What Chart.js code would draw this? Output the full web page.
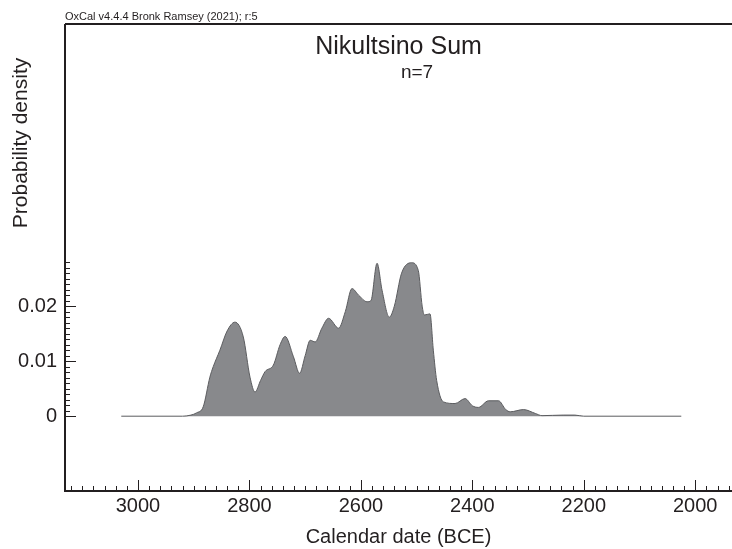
<!DOCTYPE html>
<html lang="en">
<head>
    <meta charset="UTF-8">
    <title>Nikultsino Sum</title>
    <script src="https://cdn.jsdelivr.net/npm/chart.js"></script>
    <style>
        body { margin: 0; background: #fff; }
        #wrap { width: 732px; height: 549px; position: relative; }
    </style>
</head>
<body>
    <div id="wrap"><canvas id="sumChart"></canvas></div>
    <script>
        // calendar years (BCE) and summed probability density
        const years = [3030, 2920, 2905, 2895, 2883, 2871, 2865, 2853, 2840, 2826,
            2811, 2799, 2790, 2780, 2772, 2757, 2745, 2736, 2721, 2710,
            2700, 2691, 2682, 2670, 2658, 2640, 2628, 2616, 2604, 2589,
            2582, 2571, 2562, 2549, 2540, 2527, 2509, 2497, 2490, 2486,
            2476, 2470, 2464, 2452, 2431, 2413, 2400, 2389, 2371, 2353,
            2340, 2332, 2308, 2287, 2275, 2237, 2216, 2200, 2025];
        const density = [0, 0, 0.0002, 0.0006, 0.0017, 0.0071, 0.009, 0.012, 0.0155, 0.0171,
            0.0144, 0.0071, 0.0044, 0.0065, 0.0081, 0.0093, 0.013, 0.0145, 0.0108, 0.0078,
            0.011, 0.0138, 0.0135, 0.016, 0.0178, 0.016, 0.019, 0.0232, 0.022, 0.0208,
            0.021, 0.0278, 0.0229, 0.018, 0.02, 0.026, 0.0279, 0.0265, 0.02, 0.0184,
            0.0186, 0.012, 0.0065, 0.0026, 0.0023, 0.0032, 0.0019, 0.0016, 0.0028, 0.0028,
            0.0012, 0.0008, 0.0012, 0.0005, 0.0001, 0.0002, 0.0002, 0, 0];

        const xTickYears = [3000, 2800, 2600, 2400, 2200, 2000];
        const yTickValues = [0, 0.01, 0.02];

        const credit = 'OxCal v4.4.4 Bronk Ramsey (2021); r:5';
        const title = 'Nikultsino Sum';
        const subtitle = 'n=7';
        const xLabel = 'Calendar date (BCE)';
        const yLabel = 'Probability density';

        const FONT = "'Liberation Sans', Arial, sans-serif";
        const INK = '#231f20';

        // OxCal style frame: inward ticks, minor ticks, labels
        const oxcalFrame = {
            id: 'oxcalFrame',
            afterDraw(chart) {
                const ctx = chart.ctx;
                const a = chart.chartArea;
                const xs = chart.scales.x;
                const ys = chart.scales.y;
                ctx.save();
                ctx.strokeStyle = INK;
                ctx.lineWidth = 2;
                ctx.beginPath();
                ctx.moveTo(a.left, a.top);
                ctx.lineTo(chart.width, a.top);
                ctx.moveTo(a.left, a.top);
                ctx.lineTo(a.left, a.bottom);
                ctx.lineTo(chart.width, a.bottom);
                ctx.stroke();

                ctx.lineWidth = 1;
                ctx.beginPath();
                for (let yr = 3120; yr >= 1940; yr -= 20) {
                    const px = Math.round(xs.getPixelForValue(yr)) + 0.5;
                    const len = yr % 200 === 0 ? 11 : 5;
                    ctx.moveTo(px, a.bottom);
                    ctx.lineTo(px, a.bottom - len);
                }
                for (let k = 0; k <= 28; k++) {
                    const py = Math.round(ys.getPixelForValue(k / 1000)) + 0.5;
                    const len = k % 10 === 0 ? 11 : 5;
                    ctx.moveTo(a.left, py);
                    ctx.lineTo(a.left + len, py);
                }
                ctx.stroke();

                ctx.fillStyle = INK;
                ctx.textBaseline = 'alphabetic';
                ctx.font = '11px ' + FONT;
                ctx.textAlign = 'left';
                ctx.fillText(credit, a.left, 20);

                const cx = (a.left + a.right) / 2;
                ctx.textAlign = 'center';
                ctx.font = '25px ' + FONT;
                ctx.fillText(title, cx, 54);
                ctx.font = '19px ' + FONT;
                ctx.fillText(subtitle, 417, 78);
                ctx.font = '20px ' + FONT;
                ctx.fillText(xLabel, cx, 543);

                ctx.translate(21, 143);
                ctx.rotate(-Math.PI / 2);
                ctx.textBaseline = 'middle';
                ctx.font = '21px ' + FONT;
                ctx.fillText(yLabel, 0, 0);
                ctx.restore();
            }
        };

        new Chart(document.getElementById('sumChart'), {
            type: 'line',
            data: {
                datasets: [{
                    data: years.map((x, i) => ({ x: x, y: density[i] })),
                    borderColor: '#5b5c5f',
                    borderWidth: 1,
                    backgroundColor: '#88898c',
                    fill: 'origin',
                    pointRadius: 0,
                    cubicInterpolationMode: 'monotone'
                }]
            },
            options: {
                responsive: true,
                maintainAspectRatio: false,
                animation: false,
                layout: { padding: { top: 24, right: 0, left: 0, bottom: 0 } },
                plugins: {
                    legend: { display: false },
                    tooltip: { enabled: false }
                },
                scales: {
                    x: {
                        type: 'linear',
                        reverse: true,
                        min: 1934,
                        max: 3131,
                        afterFit: s => { s.height = 58; },
                        afterBuildTicks: s => { s.ticks = xTickYears.map(v => ({ value: v })); },
                        grid: { display: false, drawTicks: false },
                        border: { display: false },
                        ticks: {
                            font: { family: FONT, size: 20 },
                            color: INK,
                            padding: 3,
                            maxRotation: 0,
                            autoSkip: false,
                            callback: v => String(v)
                        }
                    },
                    y: {
                        min: -0.0136,
                        max: 0.0713,
                        afterFit: s => { s.width = 65; },
                        afterBuildTicks: s => { s.ticks = yTickValues.map(v => ({ value: v })); },
                        grid: { display: false, drawTicks: false },
                        border: { display: false },
                        ticks: {
                            font: { family: FONT, size: 20 },
                            color: INK,
                            padding: 8,
                            callback: v => String(v)
                        }
                    }
                }
            },
            plugins: [oxcalFrame]
        });
    </script>
</body>
</html>
